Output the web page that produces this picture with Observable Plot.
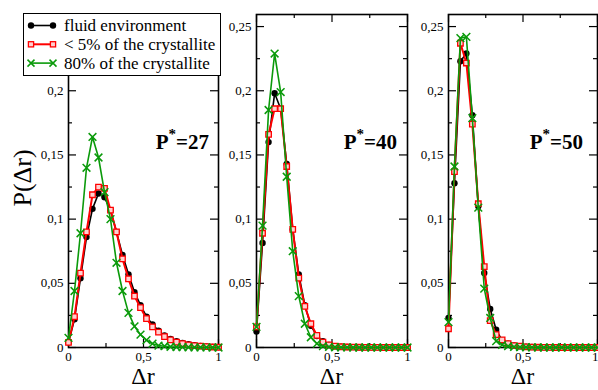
<!DOCTYPE html>
<html><head><meta charset="utf-8">
<script src="https://cdn.jsdelivr.net/npm/d3@7"></script>
<script src="https://cdn.jsdelivr.net/npm/@observablehq/plot@0.6"></script>
<style>
html,body{margin:0;padding:0;background:#fff;}
#chart{position:relative;width:598px;height:390px;overflow:hidden;font-family:"Liberation Serif","Times New Roman",serif;}
#chart svg{position:absolute;left:0;top:0;overflow:visible;}
#legend{position:absolute;left:23px;top:13px;width:196px;height:61px;border:1px solid #000;background:#fff;overflow:hidden;}
#legend svg{position:absolute;left:0;top:0;}
</style></head><body><div id="chart"></div>
<script>
// Δr grid (bin positions)
const dr = [0,0.04,0.08,0.12,0.16,0.2,0.24,0.28,0.32,0.36,0.4,0.44,0.48,0.52,0.56,0.6,0.64,0.68,0.72,0.76,0.8,0.84,0.88,0.92,0.96,1];

const seriesNames = ["fluid environment", "< 5% of the crystallite", "80% of the crystallite"];
const pressures = ["27", "40", "50"];

// P* = 27
const p27Fluid = [0.004,0.022,0.054,0.086,0.108,0.120,0.117,0.107,0.090,0.072,0.057,0.043,0.033,0.024,0.018,0.013,0.0093,0.0067,0.0049,0.0036,0.0025,0.0018,0.0012,0.0008,0.0005,0.0003];
const p27Small = [0.004,0.024,0.058,0.090,0.119,0.125,0.124,0.107,0.090,0.069,0.0535,0.040,0.031,0.0225,0.016,0.012,0.0085,0.006,0.0042,0.003,0.002,0.0014,0.001,0.0007,0.0004,0.0002];
const p27Large = [0.0075,0.044,0.089,0.140,0.164,0.148,0.121,0.100,0.066,0.044,0.027,0.0165,0.010,0.0057,0.003,0.0015,0.001,0.0006,0.0004,0.0003,0.0002,0.0001,0.0001,0.0001,0,0];
// P* = 40
const p40Fluid = [0.0125,0.0815,0.160,0.198,0.186,0.143,0.092,0.057,0.033,0.017,0.009,0.005,0.002,0.001,0.0006,0.0004,0.0003,0.0002,0.0001,0.0001,0.0001,0,0,0,0,0];
const p40Small = [0.016,0.089,0.166,0.186,0.186,0.141,0.092,0.054,0.032,0.0185,0.0094,0.0042,0.002,0.001,0.0006,0.0004,0.0003,0.0002,0.0001,0.0001,0.0001,0,0,0,0,0];
const p40Large = [0.016,0.095,0.185,0.229,0.199,0.133,0.075,0.040,0.0185,0.008,0.003,0.001,0.0005,0.0002,0.0001,0.0001,0,0,0,0,0,0,0,0,0,0];
// P* = 50
const p50Fluid = [0.023,0.128,0.223,0.229,0.181,0.110,0.058,0.030,0.0138,0.0055,0.003,0.0015,0.001,0.0006,0.0004,0.0003,0.0002,0.0001,0.0001,0,0,0,0,0,0,0];
const p50Small = [0.0146,0.137,0.237,0.2216,0.174,0.112,0.063,0.021,0.010,0.006,0.003,0.0015,0.001,0.0005,0.0003,0.0002,0.0001,0.0001,0,0,0,0,0,0,0,0];
const p50Large = [0.0198,0.141,0.241,0.242,0.1787,0.109,0.0458,0.023,0.005,0.002,0.001,0.0005,0.0003,0.0002,0.0001,0,0,0,0,0,0,0,0,0,0,0];

const xMajor = [0, 0.5, 1];
const xMinor = [0.25, 0.75];
const yMajor = [0, 0.05, 0.1, 0.15, 0.2, 0.25];
const yMinor = [0.025, 0.075, 0.125, 0.175, 0.225];

const panelValues = [[p27Fluid, p27Small, p27Large],[p40Fluid, p40Small, p40Large],[p50Fluid, p50Small, p50Large]];

// styles
const BLACK = "#000000", RED = "#ff0000", GREEN = "#0a9a0a";
const W = 598, H = 390, MT = 14, MB = 43;
const frames = [[68, 218], [256, 407], [448, 597]];
const labelEnds = [209, 397, 583];
const fmt = d => String(d).replace(".", ",");
const FONT = "'Liberation Serif', 'Times New Roman', serif";

const chart = document.getElementById("chart");

frames.forEach(([x0, x1], i) => {
  const pw = x1 - x0, ph = H - MT - MB;
  const rows = panelValues[i].map(vals => dr.map((x, k) => ({dr: x, p: vals[k]})));
  const last = i === 2;
  const xAxes = last
    ? [Plot.axisX({ticks: [0, 0.5], tickSize: 0, tickPadding: 4, tickFormat: fmt, label: null, fontSize: 13}),
       Plot.axisX({ticks: [1], tickSize: 0, tickPadding: 4, tickFormat: fmt, label: null, fontSize: 13, textAnchor: "end", dx: 1})]
    : [Plot.axisX({ticks: xMajor, tickSize: 0, tickPadding: 4, tickFormat: fmt, label: null, fontSize: 13})];
  const marks = [
    Plot.frame({stroke: "#000", strokeWidth: 1.6}),
    // inward ticks
    Plot.tickX(xMajor, {x: d => d, insetTop: ph - 8, stroke: "#000", strokeWidth: 1.2}),
    Plot.tickX(xMajor, {x: d => d, insetBottom: ph - 8, stroke: "#000", strokeWidth: 1.2}),
    Plot.tickX(xMinor, {x: d => d, insetTop: ph - 4, stroke: "#000", strokeWidth: 1.2}),
    Plot.tickX(xMinor, {x: d => d, insetBottom: ph - 4, stroke: "#000", strokeWidth: 1.2}),
    Plot.tickY(yMajor, {y: d => d, insetRight: pw - 8, stroke: "#000", strokeWidth: 1.2}),
    Plot.tickY(yMajor, {y: d => d, insetLeft: pw - 8, stroke: "#000", strokeWidth: 1.2}),
    Plot.tickY(yMinor, {y: d => d, insetRight: pw - 4, stroke: "#000", strokeWidth: 1.2}),
    Plot.tickY(yMinor, {y: d => d, insetLeft: pw - 4, stroke: "#000", strokeWidth: 1.2}),
    ...xAxes,
    Plot.axisY({ticks: yMajor, tickSize: 0, tickPadding: 5, tickFormat: fmt, label: null, fontSize: 13}),
    // fluid environment
    Plot.line(rows[0], {x: "dr", y: "p", stroke: BLACK, strokeWidth: 1.6}),
    Plot.dot(rows[0], {x: "dr", y: "p", r: 3.2, fill: BLACK, stroke: "none"}),
    // < 5%
    Plot.line(rows[1], {x: "dr", y: "p", stroke: RED, strokeWidth: 2}),
    Plot.dot(rows[1], {x: "dr", y: "p", symbol: "square", r: 3.1, fill: "#ffd0d0", stroke: RED, strokeWidth: 1.3}),
    // 80%
    Plot.line(rows[2], {x: "dr", y: "p", stroke: GREEN, strokeWidth: 1.6}),
    Plot.dot(rows[2], {x: "dr", y: "p", symbol: "times", r: 3.6, stroke: GREEN, strokeWidth: 1.5})
  ];
  const svg = Plot.plot({
    width: W, height: H,
    marginLeft: x0, marginRight: W - x1, marginTop: MT, marginBottom: MB,
    x: {domain: [0, 1]},
    y: {domain: [0, 0.2594]},
    style: {fontFamily: FONT, fontSize: "13px", color: "#000", background: "transparent"},
    marks
  });
  const s = d3.select(svg);
  // x-axis title
  s.append("text").attr("x", (x0 + x1) / 2).attr("y", 384).attr("text-anchor", "middle")
    .attr("font-size", 24).attr("font-family", FONT).attr("fill", "#000").text("Δr");
  // panel pressure label
  const t = s.append("text").attr("x", labelEnds[i]).attr("y", 149).attr("text-anchor", "end")
    .attr("font-size", 21).attr("font-weight", "bold").attr("font-family", FONT).attr("fill", "#000");
  t.append("tspan").text("P");
  t.append("tspan").attr("font-size", 15).attr("dy", -10).text("*");
  t.append("tspan").attr("dy", 10).text("=" + pressures[i]);
  chart.appendChild(svg);
});

// y-axis title
{
  const svg = d3.create("svg").attr("width", W).attr("height", H);
  svg.append("text").attr("transform", "translate(31,178) rotate(-90)").attr("text-anchor", "middle")
    .attr("font-size", 26).attr("fill", "#000").attr("font-family", FONT).text("P(Δr)");
  chart.appendChild(svg.node());
}

// legend
{
  const div = document.createElement("div");
  div.id = "legend";
  chart.appendChild(div);
  const svg = d3.select(div).append("svg").attr("width", 196).attr("height", 61);
  const colors = [BLACK, RED, GREEN];
  seriesNames.forEach((name, i) => {
    const y = 11.5 + i * 18.8;
    const g = svg.append("g");
    g.append("line").attr("x1", 7).attr("x2", 29).attr("y1", y).attr("y2", y)
      .attr("stroke", colors[i]).attr("stroke-width", i === 1 ? 2 : 1.6);
    [7, 29].forEach(x => {
      if (i === 0) g.append("circle").attr("cx", x).attr("cy", y).attr("r", 3.2).attr("fill", BLACK);
      else if (i === 1) g.append("rect").attr("x", x - 2.6).attr("y", y - 2.6).attr("width", 5.2).attr("height", 5.2)
        .attr("fill", "#ffd0d0").attr("stroke", RED).attr("stroke-width", 1.3);
      else g.append("path").attr("d", `M${x-3.5},${y-3.5}L${x+3.5},${y+3.5}M${x-3.5},${y+3.5}L${x+3.5},${y-3.5}`)
        .attr("stroke", GREEN).attr("stroke-width", 1.5);
    });
    g.append("text").attr("x", 40).attr("y", y).attr("dy", "0.35em").attr("font-size", 17)
      .attr("font-family", FONT).attr("fill", "#000").text(name);
  });
}
</script></body></html>
